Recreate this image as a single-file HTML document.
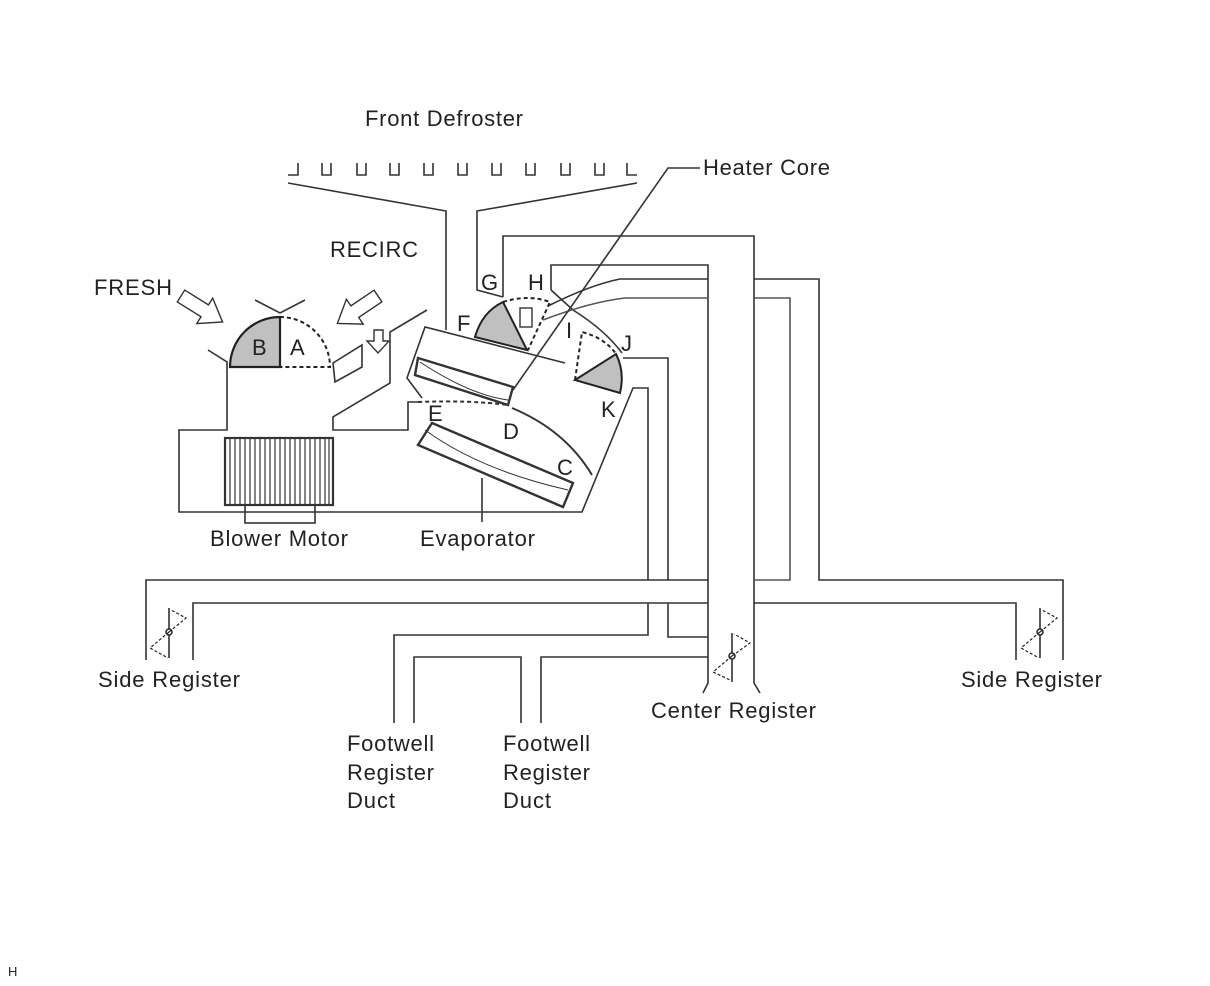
<!DOCTYPE html>
<html><head><meta charset="utf-8"><style>
html,body{margin:0;padding:0;background:#fff;}
svg{display:block;}
text{font-family:"Liberation Sans",sans-serif;font-size:22px;fill:#222;}
</style></head><body>
<svg width="1210" height="986" viewBox="0 0 1210 986" xmlns="http://www.w3.org/2000/svg">
<g fill="none" stroke="#333" stroke-width="1.6">
<path d="M288,175 H298 V163"/>
<path d="M322,163 V175 H331 V163"/>
<path d="M357,163 V175 H366 V163"/>
<path d="M390,163 V175 H399 V163"/>
<path d="M424,163 V175 H433 V163"/>
<path d="M458,163 V175 H467 V163"/>
<path d="M492,163 V175 H501 V163"/>
<path d="M526,163 V175 H535 V163"/>
<path d="M561,163 V175 H570 V163"/>
<path d="M595,163 V175 H604 V163"/>
<path d="M627,163 V175 H637"/>
<path d="M288,183 L446,211 V330"/>
<path d="M637,183 L477,211 V290 L503,297"/>
<path d="M503,297 V236 H754 V683 L760,693"/>
<path d="M551,290 V265 H708 V683 L703,693"/>
<path d="M551,290 L573,310 Q605,330 622,353"/>
<path d="M548,306 Q590,285 620,279 H708"/>
<path d="M543,320 Q590,302 625,298 H708" stroke="#555"/>
<path d="M754,279 H819 V580 H1063 V660"/>
<path d="M754,298 H790 V580 H754" stroke="#555"/>
<path d="M754,603 H1016 V660"/>
<path d="M708,580 H146 V660"/>
<path d="M708,603 H193 V660"/>
<path d="M648,580 V388 H633 L582,512 H179 V430 H227 V362 L208,350"/>
<path d="M668,580 V358 H623"/>
<path d="M648,603 V635 H394 V723"/>
<path d="M668,603 V637 H708"/>
<path d="M414,723 V657 H521 V723"/>
<path d="M541,723 V657 H708"/>
<path d="M427,310 L390,332 V383 L333,417 V430 H408 V402 H418"/>
<rect x="225" y="438" width="108" height="67" stroke-width="2.2"/>
<rect x="245" y="505" width="70" height="18"/>
<path d="M565,363 L425,327 L407,378 L422,398"/>
<path d="M418,358 L513,387 L508,405 L415,375 Z" stroke-width="2.4"/>
<path d="M420,362 Q470,395 508,400" stroke-width="1"/>
<path d="M432,423 L573,483 L563,507 L418,445 Z" stroke-width="2.4"/>
<path d="M425,430 Q480,470 568,490" stroke-width="1"/>
<path d="M418,402 Q470,400 508,405" stroke-dasharray="4,3" stroke-width="2"/>
<path d="M512,408 Q565,430 592,475" stroke-width="2"/>
<path d="M482,478 V522"/>
<path d="M700,168 H668 L513,390"/>
<path d="M333,363 L362,345 V367 L335,382 Z"/>
<path d="M255,300 L280,313 L305,300"/>
</g>
<path d="M230,367 A50,50 0 0 1 280,317 V367 Z" fill="#c0c0c0" stroke="#222" stroke-width="2.2"/>
<path d="M280,317 A50,50 0 0 1 330,367 H280" fill="none" stroke="#222" stroke-width="2" stroke-dasharray="4,3"/>
<path d="M527,350 L475,337 Q482,312 503,302 Z" fill="#c0c0c0" stroke="#222" stroke-width="2"/>
<path d="M503,302 Q528,294 550,302 L528,350" fill="none" stroke="#222" stroke-width="2" stroke-dasharray="4,3"/>
<rect x="520" y="308" width="12" height="19" fill="none" stroke="#333" stroke-width="1.4"/>
<path d="M575,380 L616,354 Q625,372 620,393 Z" fill="#c0c0c0" stroke="#222" stroke-width="2"/>
<path d="M575,380 L582,332 Q605,338 616,354" fill="none" stroke="#222" stroke-width="2" stroke-dasharray="4,3"/>
<g fill="#fff" stroke="#333" stroke-width="1.4">
<polygon transform="translate(181,296) rotate(32)" points="0,-7 28,-7 28,-15 49,0 28,15 28,7 0,7"/>
<polygon transform="translate(378,296) rotate(146)" points="0,-7 28,-7 28,-15 49,0 28,15 28,7 0,7"/>
<polygon points="374,330 383,330 383,341 389,341 378,353 367,341 374,341"/>
</g>
<g fill="none" stroke="#222" stroke-width="1.5">
<path d="M169,608 V658"/><path d="M1040,608 V658"/><path d="M732,633 V682"/>
<circle cx="169" cy="632" r="3" fill="#fff"/><circle cx="1040" cy="632" r="3" fill="#fff"/><circle cx="732" cy="656" r="3" fill="#fff"/>
<g stroke-dasharray="3,2" stroke-width="1.2">
<path d="M169,632 L186,618 L171,610 M169,632 L150,648 L168,658"/>
<path d="M1040,632 L1057,618 L1042,610 M1040,632 L1021,648 L1039,658"/>
<path d="M732,656 L750,643 L734,634 M732,656 L713,672 L730,680"/>
</g>
</g>
<g stroke="#333" stroke-width="1.2">
<path d="M230,438V505M235,438V505M240,438V505M245,438V505M250,438V505M255,438V505M260,438V505M265,438V505M270,438V505M275,438V505M280,438V505M285,438V505M290,438V505M295,438V505M300,438V505M305,438V505M310,438V505M315,438V505M320,438V505M325,438V505M329,438V505"/>
</g>
<text x="365" y="126" textLength="158">Front Defroster</text>
<text x="703" y="175" textLength="127">Heater Core</text>
<text x="330" y="257" textLength="88">RECIRC</text>
<text x="94" y="295" textLength="78">FRESH</text>
<text x="252" y="355">B</text>
<text x="290" y="355">A</text>
<text x="481" y="290">G</text>
<text x="528" y="290">H</text>
<text x="457" y="331">F</text>
<text x="566" y="338">I</text>
<text x="621" y="351">J</text>
<text x="601" y="417">K</text>
<text x="428" y="421">E</text>
<text x="503" y="439">D</text>
<text x="557" y="475">C</text>
<text x="210" y="546" textLength="138">Blower Motor</text>
<text x="420" y="546" textLength="115">Evaporator</text>
<text x="98" y="687" textLength="142">Side Register</text>
<text x="961" y="687" textLength="141">Side Register</text>
<text x="651" y="718" textLength="165">Center Register</text>
<text x="347" y="751" textLength="87">Footwell</text>
<text x="347" y="780" textLength="87">Register</text>
<text x="347" y="808" textLength="48">Duct</text>
<text x="503" y="751" textLength="87">Footwell</text>
<text x="503" y="780" textLength="87">Register</text>
<text x="503" y="808" textLength="48">Duct</text>
<text x="8" y="976" style="font-size:13px">H</text>
</svg>
</body></html>
